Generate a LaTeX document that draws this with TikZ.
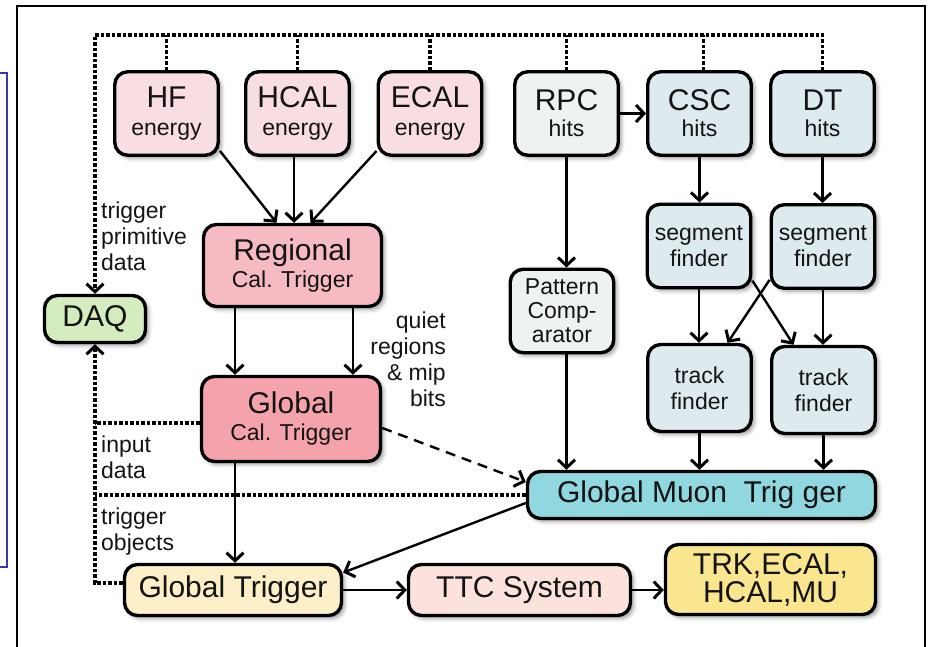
\documentclass[tikz,border=0pt]{standalone}
\usepackage{fontspec}
\setmainfont{Liberation Sans}
\usetikzlibrary{arrows.meta,shadows.blur,backgrounds,calc}
\newcommand\bigtxt{\fontsize{30}{32}\selectfont}
\definecolor{cEn}{HTML}{F8DEE2}
\definecolor{cRct}{HTML}{F6BAC2}
\definecolor{cGct}{HTML}{F4A3AC}
\definecolor{cRpc}{HTML}{EEF2F2}
\definecolor{cMu}{HTML}{DDEBEF}
\definecolor{cGmt}{HTML}{90D7DF}
\definecolor{cDaq}{HTML}{D5EDBE}
\definecolor{cGt}{HTML}{FDF0C8}
\definecolor{cTtc}{HTML}{FBE2DC}
\definecolor{cSub}{HTML}{FAE68E}
\definecolor{cBlue}{HTML}{3A3AA0}
\definecolor{cTxt}{HTML}{141414}
\begin{document}
\begin{tikzpicture}[x=1pt,y=-1pt,
  >={Straight Barb[length=8pt,width=17pt,line width=3pt]},
  box/.style={draw=black,line width=3.4pt,rounded corners=13pt,inner sep=0pt,align=center,
    font=\fontsize{23}{26}\selectfont,text=cTxt,
    blur shadow={shadow xshift=3pt,shadow yshift=-3pt,shadow blur radius=4pt,shadow opacity=40}},
  smallbox/.style={box,minimum width=103.5pt,minimum height=83.5pt},
  arr/.style={line width=2.4pt,->},
  bus/.style={line width=3.2pt,dash pattern=on 3.5pt off 2pt},
  lbl/.style={font=\fontsize{23}{26}\selectfont,inner sep=0pt,text=cTxt}
]
\useasboundingbox (0,0) rectangle (928,647);
% frames
\draw[line width=1.8pt] (17,647) -- (17,6) -- (925,6) -- (925,647);
\draw[line width=2pt,cBlue] (-2,73) -- (7,73) -- (7,567) -- (-2,567);

% boxes
\node[smallbox,fill=cEn] (hf) at (166.5,113.5) {{\bigtxt HF}\\[2pt]energy};
\node[smallbox,fill=cEn] (hcal) at (297.5,113.5) {{\bigtxt HCAL}\\[2pt]energy};
\node[smallbox,fill=cEn] (ecal) at (430,113.5) {{\bigtxt ECAL}\\[2pt]energy};
\node[smallbox,fill=cRpc] (rpc) at (566.5,113.5) {{\bigtxt RPC}\\hits};
\node[smallbox,fill=cMu] (csc) at (699.5,113.5) {{\bigtxt CSC}\\hits};
\node[smallbox,fill=cMu] (dt) at (822.5,113.5) {{\bigtxt DT}\\hits};
\node[box,fill=cRct,minimum width=178pt,minimum height=82pt] (rct) at (292.5,265.5) {{\bigtxt Regional}\\[1pt]Cal. Trigger};
\node[box,fill=cGct,minimum width=179pt,minimum height=85pt] (gct) at (291,419) {{\bigtxt Global}\\[1pt]Cal. Trigger};
\node[box,fill=cDaq,minimum width=101pt,minimum height=47pt,font=\bigtxt] (daq) at (95,319) {DAQ};
\node[smallbox,fill=cRpc,font=\fontsize{23}{24}\selectfont] (pat) at (562,311) {Pattern\\Comp-\\arator};
\node[smallbox,fill=cMu] (segL) at (699,246) {segment\\finder};
\node[smallbox,fill=cMu] (segR) at (823,246.5) {segment\\finder};
\node[smallbox,fill=cMu,minimum height=87pt] (trkL) at (699.5,388) {track\\finder};
\node[smallbox,fill=cMu,minimum height=87pt] (trkR) at (823.5,390) {track\\finder};
\node[box,fill=cGmt,minimum width=348pt,minimum height=47pt,font=\bigtxt] (gmt) at (701.5,495) {Global Muon\ \ Trig ger};
\node[box,fill=cGt,minimum width=217pt,minimum height=51pt,font=\bigtxt] (gt) at (233,590) {Global Trigger};
\node[box,fill=cTtc,minimum width=222pt,minimum height=51pt,font=\bigtxt] (ttc) at (519.5,590) {TTC System};
\node[box,fill=cSub,minimum width=210pt,minimum height=70pt,font=\fontsize{30}{28}\selectfont] (sub) at (770.5,579.5) {TRK,ECAL,\\HCAL,MU};

% labels
\node[lbl,anchor=west,align=left] (tpd) at (101,236) {trigger\\primitive\\data};
\node[lbl,anchor=west,align=left] (inp) at (101,457) {input\\data};
\node[lbl,anchor=west,align=left] (tob) at (101,532) {trigger\\objects};
\node[lbl,anchor=east,align=right] (qr) at (446,359) {quiet\\regions\\\& mip\\bits};

\begin{scope}[on background layer]
% dashed buses
\coordinate (busL) at (95,35);
\draw[bus,->] (dt.north) |- (busL) -- (daq.north);
\draw[bus] (hf.north) -- (hf.north |- busL);
\draw[bus] (hcal.north) -- (hcal.north |- busL);
\draw[bus] (ecal.north) -- (ecal.north |- busL);
\draw[bus] (rpc.north) -- (rpc.north |- busL);
\coordinate (cscT) at ([xshift=4pt]csc.north);
\draw[bus] (cscT) -- (cscT |- busL);
\coordinate (gtw) at ([yshift=7pt]gt.west);
\draw[bus,->] (gtw) -| (daq.south);
\coordinate (gcw) at ([yshift=-4pt]gct.west);
\draw[bus] (gcw) -- (gcw -| daq.south);
\draw[bus] (gmt.west) -- (gmt.west -| daq.south);

% arrows
\draw[arr] (hf.-35) -- ([xshift=-16pt]rct.north);
\coordinate (hc) at ([xshift=-3.5pt]hcal.south);
\draw[arr] (hc) -- (hc |- rct.north);
\draw[arr] (ecal.-145) -- ([xshift=18pt]rct.north);
\draw[arr] (rpc.east) -- (csc.west);
\draw[arr] (rpc.south) -- (rpc.south |- pat.north);
\coordinate (pb) at (rpc.south |- pat.south);
\draw[arr] (pb) -- (pb |- gmt.north);
\draw[arr] (csc.south) -- (csc.south |- segL.north);
\draw[arr] (dt.south) -- (dt.south |- segR.north);
\draw[arr] (segL.south) -- (segL.south |- trkL.north);
\draw[arr] (segR.south) -- (segR.south |- trkR.north);
\draw[arr] (segL.-33) -- ([xshift=-30pt]trkR.north);
\draw[arr] (segR.-148) -- ([xshift=28pt]trkL.north);
\draw[arr] (trkL.south) -- (trkL.south |- gmt.north);
\draw[arr] (trkR.south) -- (trkR.south |- gmt.north);
\coordinate (r1) at ([xshift=-57.5pt]rct.south);
\draw[arr] (r1) -- (r1 |- gct.north);
\coordinate (r2) at ([xshift=60.5pt]rct.south);
\draw[arr] (r2) -- (r2 |- gct.north);
\coordinate (g2) at ([xshift=-56pt]gct.south);
\draw[arr] (g2) -- (g2 |- gt.north);
\draw[arr,dash pattern=on 10pt off 7pt] ([yshift=-9pt]gct.east) -- ([yshift=13pt]gmt.west);
\draw[arr] ([yshift=-8pt]gmt.west) -- (gt.9);
\draw[arr] (gt.east) -- (ttc.west);
\draw[arr] (ttc.east) -- (ttc.east -| sub.west);
\end{scope}
\end{tikzpicture}
\end{document}
